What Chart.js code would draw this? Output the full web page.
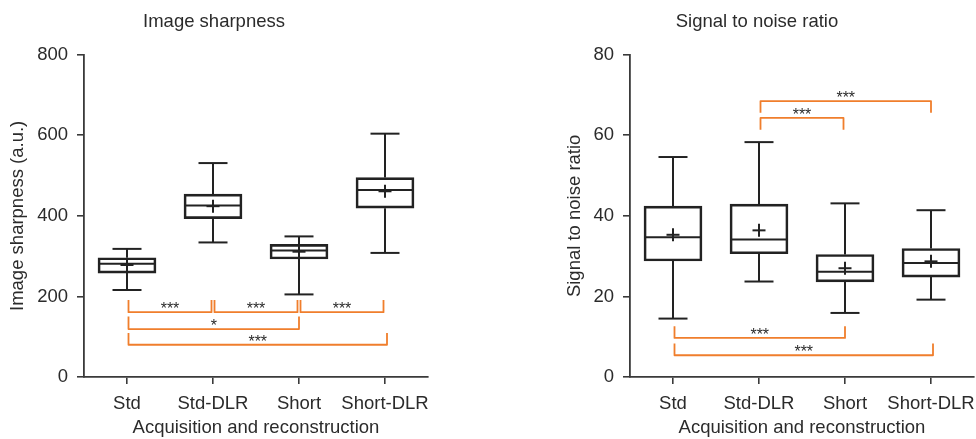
<!DOCTYPE html>
<html>
<head>
<meta charset="utf-8">
<title>Image sharpness and SNR</title>
<script src="https://cdn.jsdelivr.net/npm/chart.js@4"></script>
<style>
  html, body { margin: 0; padding: 0; background: #fff; overflow: hidden; width: 976px; height: 439px; }
  .panel { position: absolute; top: 0; height: 439px; }
  #leftWrap { left: 0; width: 512px; }
  #rightWrap { left: 540px; width: 524px; }
</style>
</head>
<body>
<div class="panel" id="leftWrap"><canvas id="sharpChart"></canvas></div>
<div class="panel" id="rightWrap"><canvas id="snrChart"></canvas></div>
<script>
// Groups on the x axis
const categories = ['Std', 'Std-DLR', 'Short', 'Short-DLR'];

// Image sharpness (a.u.) box plot values
const sharpMin = [216, 334, 205, 308];
const sharpQ1 = [258, 393, 293, 419];
const sharpMedian = [281, 426, 314, 464];
const sharpQ3 = [296, 454, 329, 495];
const sharpMax = [318, 531, 349, 604];
const sharpMean = [278, 424, 311, 461];
const sharpTicks = [0, 200, 400, 600, 800];
// significance brackets: from/to category index, y of the bar, y of the tips
const sharpBrackets = [
    { from: 0, to: 1, y: 161, tip: 191, label: '***' },
    { from: 1, to: 2, y: 161, tip: 191, label: '***' },
    { from: 2, to: 3, y: 161, tip: 191, label: '***' },
    { from: 0, to: 2, y: 119, tip: 150, label: '*' },
    { from: 0, to: 3, y: 80, tip: 109, label: '***' }
];

// Signal to noise ratio box plot values
const snrMin = [14.5, 23.7, 15.9, 19.2];
const snrQ1 = [28.8, 30.6, 23.6, 24.8];
const snrMedian = [34.7, 34.1, 26.1, 28.3];
const snrQ3 = [42.4, 42.9, 30.4, 31.9];
const snrMax = [54.6, 58.3, 43.1, 41.4];
const snrMean = [35.3, 36.4, 27.0, 28.7];
const snrTicks = [0, 20, 40, 60, 80];
const snrBrackets = [
    { from: 1, to: 2, y: 64.3, tip: 61.4, label: '***' },
    { from: 1, to: 3, y: 68.5, tip: 65.6, label: '***' },
    { from: 0, to: 2, y: 9.7, tip: 12.6, label: '***' },
    { from: 0, to: 3, y: 5.4, tip: 8.3, label: '***' }
];

const FONT = "'Liberation Sans', Arial, Helvetica, sans-serif";
const TEXT = '#2b2b2b';
const AXIS = '#3a3a3a';
const BOX = '#222';
const ORANGE = '#f07e2c';

// whiskers, medians, means and brackets drawn on top of the box bars
function makeBoxPlugin(stats) {
    return {
        id: 'boxExtras',
        afterDatasetsDraw(chart) {
            const { ctx, scales: { x, y } } = chart;
            const line = (x1, y1, x2, y2) => {
                ctx.beginPath();
                ctx.moveTo(x1, y1);
                ctx.lineTo(x2, y2);
                ctx.stroke();
            };
            ctx.save();
            ctx.strokeStyle = BOX;
            ctx.lineWidth = 2;
            ctx.lineCap = 'butt';
            stats.min.forEach((v, i) => {
                const cx = x.getPixelForValue(i);
                const yMin = y.getPixelForValue(stats.min[i]);
                const yMax = y.getPixelForValue(stats.max[i]);
                const yQ1 = y.getPixelForValue(stats.q1[i]);
                const yQ3 = y.getPixelForValue(stats.q3[i]);
                const yMed = y.getPixelForValue(stats.median[i]);
                const yMean = y.getPixelForValue(stats.mean[i]);
                line(cx, yQ3, cx, yMax);
                line(cx, yQ1, cx, yMin);
                line(cx - 14.5, yMax, cx + 14.5, yMax);
                line(cx - 14.5, yMin, cx + 14.5, yMin);
                line(cx - 28, yMed, cx + 28, yMed);
                line(cx - 6.5, yMean, cx + 6.5, yMean);
                line(cx, yMean - 6.5, cx, yMean + 6.5);
            });

            ctx.strokeStyle = ORANGE;
            ctx.lineWidth = 1.8;
            ctx.lineJoin = 'round';
            ctx.fillStyle = TEXT;
            ctx.font = '16px ' + FONT;
            ctx.textAlign = 'center';
            ctx.textBaseline = 'alphabetic';
            stats.brackets.forEach(b => {
                const span = b.to - b.from;
                const x1 = x.getPixelForValue(b.from) + 1.5;
                const x2 = x.getPixelForValue(b.to) + (span === 1 ? -1.5 : (span - 2) * 2);
                const yl = y.getPixelForValue(b.y);
                const yt = y.getPixelForValue(b.tip);
                ctx.beginPath();
                ctx.moveTo(x1, yt);
                ctx.lineTo(x1, yl);
                ctx.lineTo(x2, yl);
                ctx.lineTo(x2, yt);
                ctx.stroke();
                ctx.fillText(b.label, (x1 + x2) / 2, yl + 2);
            });
            ctx.restore();
        }
    };
}

function makeChart(canvasId, opts) {
    const ctx = document.getElementById(canvasId).getContext('2d');
    return new Chart(ctx, {
        type: 'bar',
        data: {
            labels: categories,
            datasets: [{
                data: opts.q1.map((v, i) => [v, opts.q3[i]]),
                backgroundColor: 'rgba(0,0,0,0)',
                borderColor: BOX,
                borderWidth: 2,
                borderSkipped: false,
                barThickness: 58
            }]
        },
        options: {
            responsive: true,
            maintainAspectRatio: false,
            animation: false,
            layout: { padding: { left: 0, right: opts.padRight, top: 0, bottom: 0 } },
            plugins: {
                legend: { display: false },
                tooltip: { enabled: false },
                title: {
                    display: true,
                    text: opts.title,
                    color: TEXT,
                    font: { family: FONT, size: 18.5, weight: 'normal' },
                    padding: { top: 11, bottom: 21.5 }
                }
            },
            scales: {
                x: {
                    offset: true,
                    grid: { display: true, offset: false, drawOnChartArea: false, drawTicks: true, tickLength: 7, color: AXIS, lineWidth: 1.6 },
                    border: { display: true, color: AXIS, width: 1.8 },
                    ticks: { color: TEXT, font: { family: FONT, size: 18.5 }, padding: 9, maxRotation: 0, autoSkip: false },
                    title: { display: true, text: 'Acquisition and reconstruction', color: TEXT, font: { family: FONT, size: 18.5 }, padding: { top: 0, bottom: 0 } },
                    afterFit: s => { s.height = 62; }
                },
                y: {
                    min: 0,
                    max: opts.ticks[opts.ticks.length - 1],
                    afterBuildTicks: s => { s.ticks = opts.ticks.map(v => ({ value: v })); },
                    grid: { display: true, drawOnChartArea: false, drawTicks: true, tickLength: 7, color: AXIS, lineWidth: 1.6 },
                    border: { display: true, color: AXIS, width: 1.8 },
                    ticks: { color: TEXT, font: { family: FONT, size: 18.5 }, padding: 9 },
                    title: { display: true, text: opts.yTitle, color: TEXT, font: { family: FONT, size: 18.5 }, padding: { top: opts.yTitlePad, bottom: 0 } },
                    afterFit: s => { s.width = opts.yWidth; }
                }
            }
        },
        plugins: [makeBoxPlugin(opts)]
    });
}

// canvases are wider than the visible panels so the titles centre over the plot areas
makeChart('sharpChart', {
    title: 'Image sharpness',
    yTitle: 'Image sharpness (a.u.)',
    min: sharpMin, q1: sharpQ1, median: sharpMedian, q3: sharpQ3, max: sharpMax, mean: sharpMean,
    ticks: sharpTicks,
    brackets: sharpBrackets,
    yWidth: 84, yTitlePad: 7, padRight: 84
});

makeChart('snrChart', {
    title: 'Signal to noise ratio',
    yTitle: 'Signal to noise ratio',
    min: snrMin, q1: snrQ1, median: snrMedian, q3: snrQ3, max: snrMax, mean: snrMean,
    ticks: snrTicks,
    brackets: snrBrackets,
    yWidth: 90, yTitlePad: 24, padRight: 90
});
</script>
</body>
</html>
